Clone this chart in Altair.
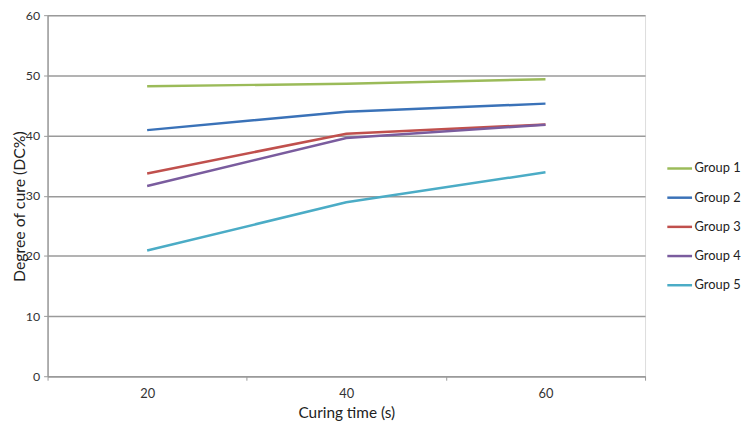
import altair as alt
import pandas as pd

curing_times = ["20", "40", "60"]
groups = ["Group 1", "Group 2", "Group 3", "Group 4", "Group 5"]
group1 = [48.2, 48.6, 49.35]
group2 = [40.9, 43.95, 45.3]
group3 = [33.7, 40.3, 41.85]
group4 = [31.6, 39.6, 41.8]
group5 = [20.9, 28.9, 33.9]
colors = ["#9BBB59", "#3A72B8", "#C0504D", "#7A5C9E", "#4BACC6"]

series = [group1, group2, group3, group4, group5]
rows = []
for g, vals in zip(groups, series):
    for t, v in zip(curing_times, vals):
        rows.append({"time": t, "group": g, "dc": v})
df = pd.DataFrame(rows)

FONT = "Lato"
GRAY = "#9a9a9a"

chart = alt.Chart(df).mark_line(strokeWidth=2.5).encode(
    x=alt.X("time:N", sort=curing_times,
            scale=alt.Scale(type="band", paddingInner=0, paddingOuter=0),
            axis=alt.Axis(title="Curing time (s)", labelAngle=0, tickBand="extent",
                          tickSize=4, tickColor=GRAY, domainColor=GRAY, domainWidth=1.5,
                          labelPadding=7, labelFontSize=13, labelColor="#333333",
                          titleFontSize=15.5, titleFontWeight="normal", titleColor="#222222",
                          titlePadding=6, grid=False, labelFont=FONT, titleFont=FONT)),
    y=alt.Y("dc:Q", scale=alt.Scale(domain=[0, 60], nice=False),
            axis=alt.Axis(title="Degree of cure (DC%)", values=[0, 10, 20, 30, 40, 50, 60],
                          grid=True, gridColor=GRAY, gridWidth=1.5, gridOpacity=1,
                          tickSize=4, tickColor=GRAY, domainColor=GRAY, domainWidth=1.5,
                          labelPadding=4, labelFontSize=12.5, labelColor="#333333",
                          titleFontSize=16, titleFontWeight="normal", titleColor="#222222",
                          titleX=-28, titleY=193, titleBaseline="middle",
                          labelFont=FONT, titleFont=FONT)),
    color=alt.Color("group:N", sort=groups,
                    scale=alt.Scale(domain=groups, range=colors),
                    legend=alt.Legend(title=None, orient="none", legendX=625, legendY=141,
                                      symbolType="stroke", symbolSize=625,
                                      symbolStrokeWidth=2.5, labelFontSize=13,
                                      labelColor="#222222", rowPadding=8.5,
                                      labelOffset=1, padding=0, labelFont=FONT)),
).properties(
    width=604, height=365,
    padding={"left": 40, "top": 5, "right": 98, "bottom": 43},
    autosize=alt.AutoSizeParams(type="none"),
).configure_view(stroke=None).configure(background="white")

chart.save("out.html", embed_options={"renderer": "svg", "actions": False})
